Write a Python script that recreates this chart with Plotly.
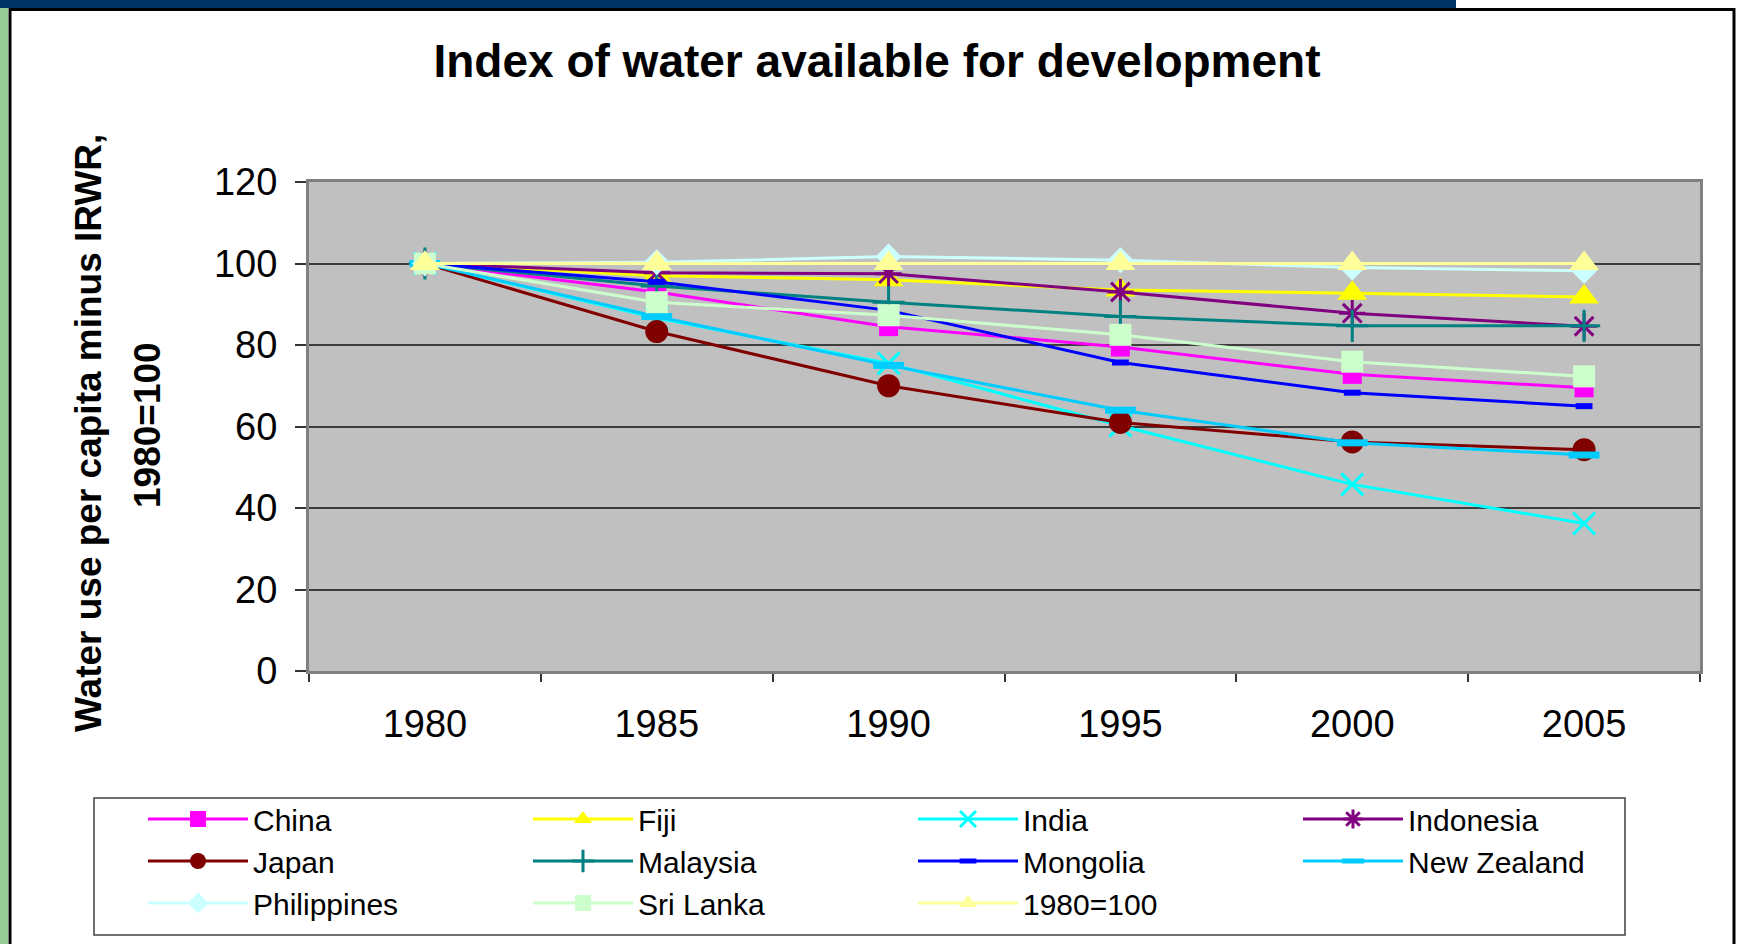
import plotly.graph_objects as go

# Index of water available for development, 1980 = 100
years = ["1980", "1985", "1990", "1995", "2000", "2005"]

china = [100, 93.0, 84.5, 79.5, 72.8, 69.5]
fiji = [100, 97.0, 96.0, 93.5, 92.7, 91.8]
india = [100, 86.6, 75.5, 60.2, 45.8, 36.2]
indonesia = [100, 97.7, 97.5, 93.0, 87.8, 84.6]
japan = [100, 83.3, 70.0, 61.0, 56.2, 54.3]
malaysia = [100, 94.5, 90.5, 87.0, 84.7, 84.7]
mongolia = [100, 95.5, 88.5, 75.7, 68.3, 65.0]
new_zealand = [100, 87.0, 75.0, 64.0, 56.0, 53.0]
philippines = [100, 100.3, 101.7, 100.8, 99.0, 98.2]
sri_lanka = [100, 90.5, 87.3, 82.5, 75.9, 72.3]
base_1980 = [100, 100, 100, 100, 100, 100]

series = [
    ("China", china, "#FF00FF", "square", 19, 0),
    ("Fiji", fiji, "#FFFF00", "triangle-up", 26, 0),
    ("India", india, "#00FFFF", "x-thin-open", 22, 3),
    ("Indonesia", indonesia, "#800080", "asterisk-open", 22, 3),
    ("Japan", japan, "#800000", "circle", 23, 0),
    ("Malaysia", malaysia, "#008080", "cross-thin-open", 23, 3),
    ("Mongolia", mongolia, "#0000FF", "line-ew-open", 12, 6),
    ("New Zealand", new_zealand, "#00CCFF", "line-ew-open", 22, 7),
    ("Philippines", philippines, "#CCFFFF", "diamond", 20, 0),
    ("Sri Lanka", sri_lanka, "#CCFFCC", "square", 22, 0),
    ("1980=100", base_1980, "#FFFF99", "triangle-up", 26, 0),
]

W, H = 1739, 944
L, R, T, B = 309, 1700, 182, 671  # plot area in pixels


def px(x):
    return (x - L) / (R - L)


def py(y):
    return (B - y) / (B - T)


fig = go.Figure()

for name, vals, color, symbol, size, lw in series:
    fig.add_trace(go.Scatter(
        x=years,
        y=vals,
        name=name,
        mode="lines+markers",
        line=dict(color=color, width=3),
        marker=dict(symbol=symbol, size=size, color=color,
                    line=dict(color=color, width=lw)),
    ))

font_family = "Arial, Liberation Sans, sans-serif"

fig.update_layout(
    width=W,
    height=H,
    margin=dict(l=L, r=W - R, t=T, b=H - B, pad=0),
    paper_bgcolor="white",
    plot_bgcolor="#C0C0C0",
    font=dict(family=font_family, color="black"),
    title=dict(
        text="<b>Index of water available for development</b>",
        font=dict(size=46, family=font_family, color="black"),
        xref="container", x=877 / W, xanchor="center",
        yref="container", y=1 - 61 / H, yanchor="middle",
    ),
    showlegend=True,
    legend=dict(
        orientation="h",
        x=px(143), xanchor="left",
        y=py(793), yanchor="top",
        bgcolor="rgba(0,0,0,0)",
        borderwidth=0,
        itemwidth=100,
        entrywidthmode="pixels",
        entrywidth=270,
        font=dict(size=30, family=font_family, color="black"),
        traceorder="normal",
    ),
)

fig.update_xaxes(
    type="category",
    range=[-0.5, 5.5],
    tickson="boundaries",
    ticks="outside",
    ticklen=8,
    tickwidth=1.5,
    tickcolor="#333333",
    showgrid=False,
    showline=True,
    linecolor="#808080",
    linewidth=3,
    mirror=True,
    tickfont=dict(size=38, family=font_family, color="black"),
    ticklabelstandoff=17,
)

fig.update_yaxes(
    range=[0, 120],
    dtick=20,
    ticks="outside",
    ticklen=11,
    tickwidth=1.5,
    tickcolor="#333333",
    showgrid=True,
    gridcolor="#3c3c3c",
    gridwidth=1.5,
    zeroline=False,
    showline=True,
    linecolor="#808080",
    linewidth=3,
    mirror=True,
    tickfont=dict(size=38, family=font_family, color="black"),
    ticklabelstandoff=10,
)

# slide decoration around the chart
shapes = [
    dict(type="rect", xref="paper", yref="paper",
         x0=px(0), x1=px(1456), y0=py(8), y1=py(0),
         fillcolor="#003366", line=dict(width=0), layer="below"),
    dict(type="rect", xref="paper", yref="paper",
         x0=px(0), x1=px(8), y0=py(H), y1=py(8),
         fillcolor="#99CC99", line=dict(width=0), layer="below"),
    dict(type="rect", xref="paper", yref="paper",
         x0=px(10), x1=px(1734), y0=py(H + 10), y1=py(9.5),
         fillcolor="rgba(0,0,0,0)", line=dict(color="black", width=3), layer="below"),
    # legend frame
    dict(type="rect", xref="paper", yref="paper",
         x0=px(94), x1=px(1625), y0=py(935), y1=py(798),
         fillcolor="rgba(0,0,0,0)", line=dict(color="#404040", width=1.5), layer="below"),
]
fig.update_layout(shapes=shapes)

# two-line rotated y-axis title
fig.add_annotation(
    text="<b>Water use per capita minus IRWR,</b>",
    xref="paper", yref="paper", x=px(88), y=py(433),
    xanchor="center", yanchor="middle", textangle=-90, showarrow=False,
    font=dict(size=37, family=font_family, color="black"),
)
fig.add_annotation(
    text="<b>1980=100</b>",
    xref="paper", yref="paper", x=px(147), y=py(425),
    xanchor="center", yanchor="middle", textangle=-90, showarrow=False,
    font=dict(size=37, family=font_family, color="black"),
)

fig.write_html(
    "out.html",
    config={"displayModeBar": False},
    post_script="document.body.style.margin = '0px';",
)
